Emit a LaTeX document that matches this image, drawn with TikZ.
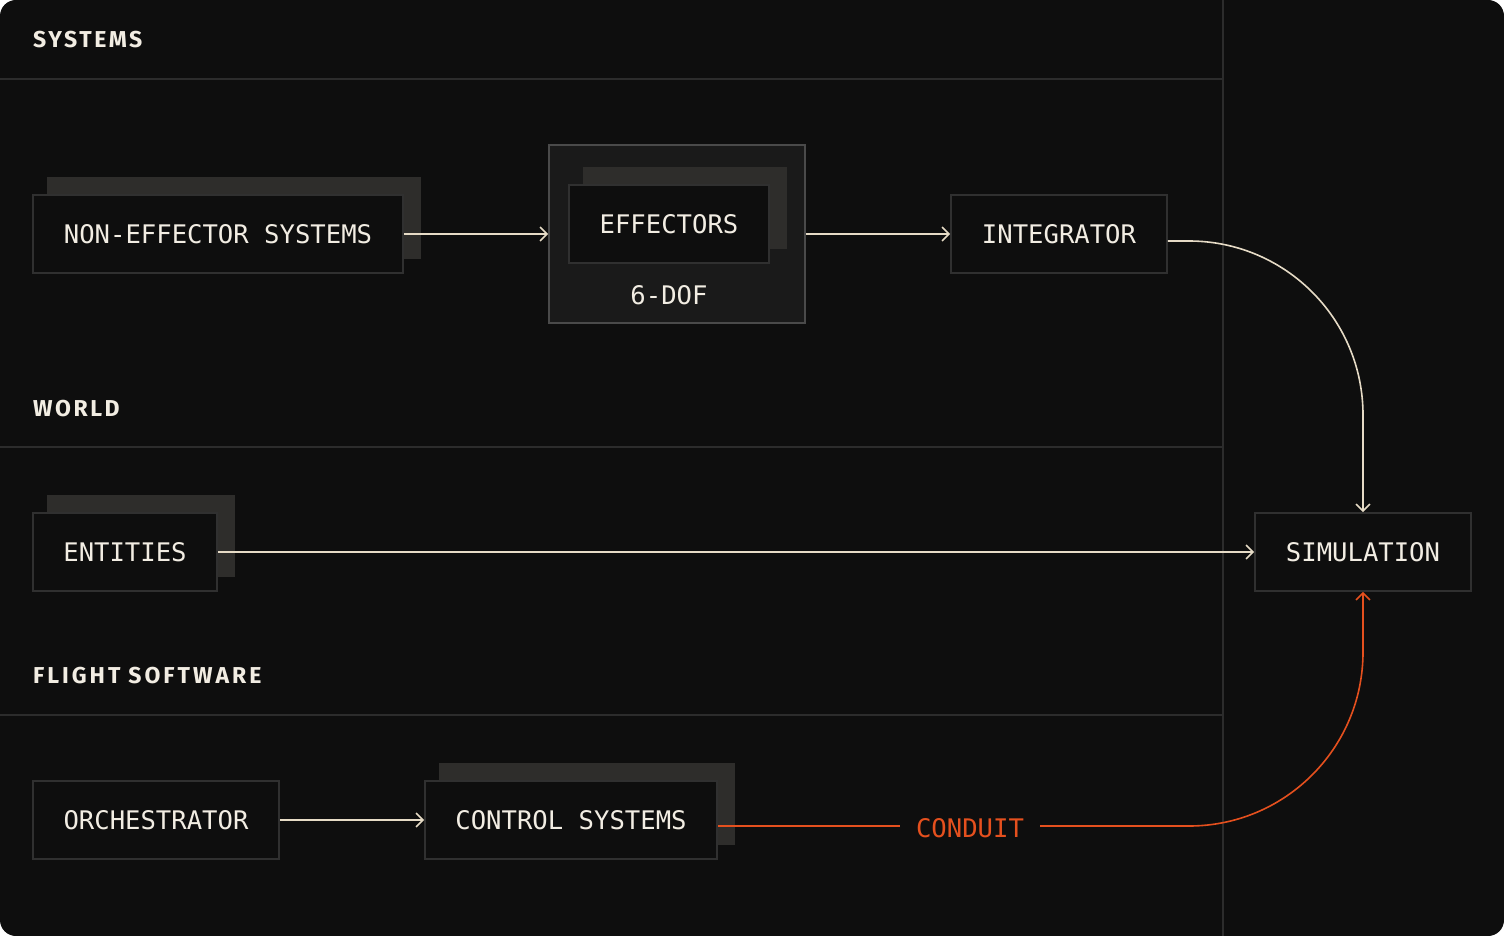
\documentclass[tikz,border=0pt]{standalone}
\usepackage{fontspec}
\usetikzlibrary{arrows.meta,calc}
\newfontfamily\monof{DejaVu Sans Mono}
\newfontfamily\headf[LetterSpace=11]{Fira Sans}
\newfontfamily\headwide[LetterSpace=13]{Fira Sans}
\definecolor{bgc}{HTML}{0E0E0E}
\definecolor{gridc}{HTML}{2C2C2C}
\definecolor{borderc}{HTML}{303030}
\definecolor{shadc}{HTML}{2E2D2B}
\definecolor{groupfill}{HTML}{1A1A1A}
\definecolor{groupborder}{HTML}{4A4A4A}
\definecolor{creamc}{HTML}{E6DBC6}
\definecolor{textc}{HTML}{F2EDE3}
\definecolor{orangec}{HTML}{E5501E}
\pgfdeclarelayer{backlayer}
\pgfdeclarelayer{grouplayer}
\pgfdeclarelayer{shadlayer}
\pgfsetlayers{backlayer,grouplayer,shadlayer,main}
\tikzset{
  box/.style={draw=borderc, line width=1.6pt, fill=bgc, inner sep=0pt,
    minimum height=78pt, text=textc, font=\monof\fontsize{25.6}{30}\selectfont},
  groupbox/.style={draw=groupborder, line width=1.6pt, fill=groupfill, inner sep=0pt},
  heading/.style={anchor=base west, inner sep=0pt, text=textc,
    font=\headf\bfseries\fontsize{23}{27}\selectfont},
  flow/.style={draw=creamc, line width=1.6pt, -{Straight Barb[length=7pt,width=14pt]}},
  conduitline/.style={draw=orangec, line width=1.6pt},
  gridline/.style={draw=gridc, line width=2pt},
}
\newcommand{\boxshadow}[1]{%
  \begin{pgfonlayer}{shadlayer}
    \fill[shadc] ([shift={(15,-17)}]#1.north west) rectangle ([shift={(17,-15)}]#1.south east);
  \end{pgfonlayer}}
\begin{document}
\begin{tikzpicture}[x=1pt,y=-1pt]
\useasboundingbox (0,0) rectangle (1504,936);
\begin{pgfonlayer}{backlayer}
  \fill[white] (0,0) rectangle (1504,936);
  \fill[bgc, rounded corners=16pt] (0,0) rectangle (1504,936);
  \draw[gridline] (0,79) -- (1223,79);
  \draw[gridline] (0,447) -- (1223,447);
  \draw[gridline] (0,715) -- (1223,715);
  \draw[gridline] (1223,0) -- (1223,936);
\end{pgfonlayer}

% headings
\node[heading] (hsys) at (33,48) {SYSTEMS};
\node[heading] (hworld) at (33,416) {WORLD};
\node[heading, font=\headwide\bfseries\fontsize{23}{27}\selectfont] (hfsw) at (33,683) {FLIGHT\hspace{8pt}SOFTWARE};

% systems row
\node[box, minimum width=370pt] (nes) at (218,234) {NON-EFFECTOR SYSTEMS};
\boxshadow{nes}
\begin{pgfonlayer}{grouplayer}
\node[groupbox, minimum width=256pt, minimum height=178pt] (effg) at (677,234) {};
\end{pgfonlayer}
\node[box, minimum width=200pt] (eff) at (669,224) {EFFECTORS};
\boxshadow{eff}
\node[text=textc, inner sep=0pt, font=\monof\fontsize{25.6}{30}\selectfont] (dof) at (669,295) {6-DOF};
\node[box, minimum width=216pt] (int) at (1059,234) {INTEGRATOR};

% world row
\node[box, minimum width=184pt] (ent) at (125,552) {ENTITIES};
\boxshadow{ent}
\node[box, minimum width=216pt] (sim) at (1363,552) {SIMULATION};

% flight software row
\node[box, minimum width=246pt] (orch) at (156,820) {ORCHESTRATOR};
\node[box, minimum width=292pt] (ctrl) at (571,820) {CONTROL SYSTEMS};
\boxshadow{ctrl}
\node[text=orangec, inner sep=0pt, minimum width=140pt, font=\monof\fontsize{25.6}{30}\selectfont] (cond) at (970,828) {CONDUIT};

% connectors
\draw[flow] (nes.east) -- (effg.west);
\draw[flow] (effg.east) -- (int.west);
\draw[flow] (ent.east) -- (sim.west);
\draw[flow] (orch.east) -- (ctrl.west);
\draw[flow, rounded corners=174pt] ([yshift=-7pt]int.east) -- ([yshift=-7pt]int.east -| sim.north) -- (sim.north);
\draw[conduitline] ([yshift=-6pt]ctrl.east) -- ([yshift=-6pt]ctrl.east -| cond.west);
\draw[conduitline, -{Straight Barb[length=7pt,width=14pt]}, rounded corners=174pt] ([yshift=2pt]cond.east) -- ([yshift=2pt]cond.east -| sim.south) -- (sim.south);
\end{tikzpicture}
\end{document}
